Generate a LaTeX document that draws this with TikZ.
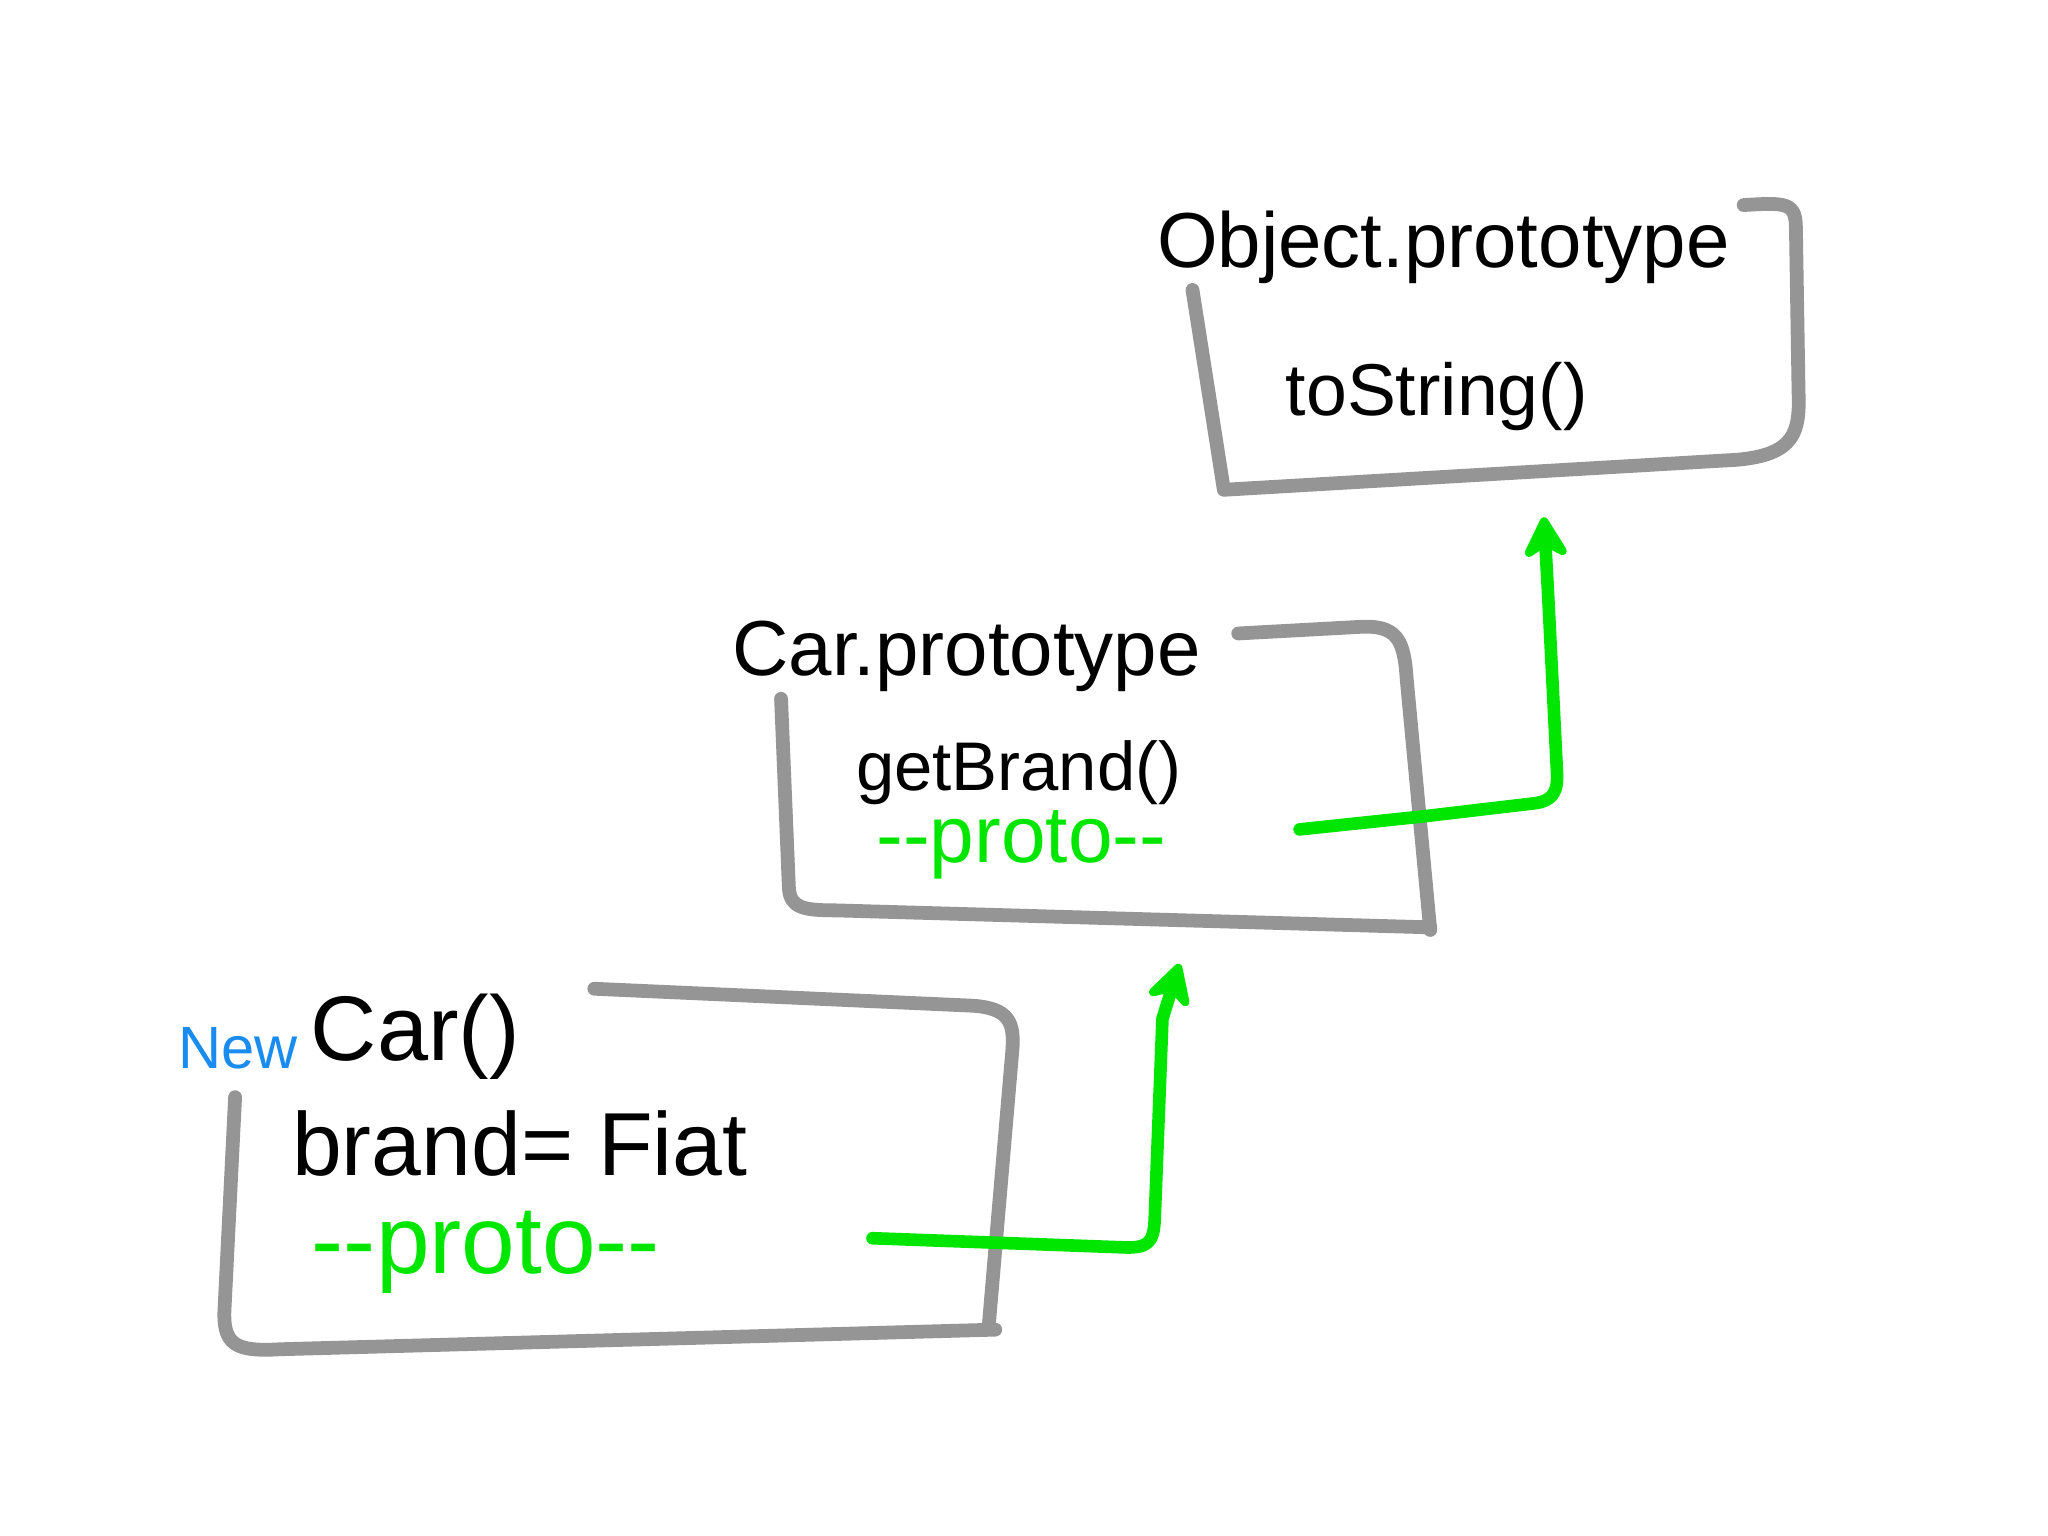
\documentclass[tikz,border=0pt]{standalone}
\usepackage{fontspec}
\setmainfont{Liberation Sans}
\usetikzlibrary{arrows.meta}
\definecolor{boxgray}{HTML}{959595}
\definecolor{protogreen}{HTML}{00E600}
\definecolor{newblue}{HTML}{1A8CF0}
\tikzset{
  boxline/.style={draw=boxgray, line width=6pt, line cap=round, line join=round},
  link/.style={draw=protogreen, line width=5.5pt, line cap=round, line join=round,
    -{Stealth[length=22pt,width=24pt,round]}},
  code/.style={inner sep=0pt, anchor=base, text=black},
  protolbl/.style={inner sep=0pt, anchor=base, text=protogreen},
}
\begin{document}
\begin{tikzpicture}[x=0.02cm, y=-0.02cm]
\useasboundingbox[fill=white] (0,0) rectangle (1568,1176);

% Box 3: Object.prototype
\draw[boxline] (913,222) -- (937,375) -- (1330,352)
  .. controls (1375,348) and (1378,330) .. (1377,300)
  -- (1375,175) .. controls (1375,155) and (1368,155) .. (1335,157);
\node[code, font=\fontsize{34}{40}\selectfont] (objproto) at (1105,205) {Object.prototype};
\node[code, font=\fontsize{32}{38}\selectfont] (tostring) at (1100,318) {toString()};

% Box 2: Car.prototype
\draw[boxline] (598,535) -- (604,680) .. controls (605,695) and (615,697) .. (640,697)
  -- (1095,710);
\draw[boxline] (948,485) -- (1040,480) .. controls (1070,478) and (1075,490) .. (1077,520)
  -- (1095,712);
\node[code, font=\fontsize{34}{40}\selectfont] (carproto) at (740,517) {Car.prototype};
\node[code, font=\fontsize{30}{36}\selectfont] (getbrand) at (780,605) {getBrand()};
\node[protolbl, font=\fontsize{35}{40}\selectfont] (proto2) at (782,660) {-{}-proto-{}-};

% Box 1: new Car()
\draw[boxline] (180,840) -- (172,1000) .. controls (170,1030) and (180,1035) .. (215,1033)
  -- (762,1018);
\draw[boxline] (455,757) -- (745,770) .. controls (772,772) and (777,782) .. (775,805)
  -- (757,1015);
\node[inner sep=0pt, anchor=base, text=newblue, font=\fontsize{26}{30}\selectfont] (newkw) at (182,818) {New};
\node[code, font=\fontsize{40}{46}\selectfont] (carnew) at (318,812) {Car()};
\node[code, font=\fontsize{39}{45}\selectfont] (brand) at (398,900) {brand= Fiat};
\node[protolbl, font=\fontsize{42}{46}\selectfont] (proto1) at (372,975) {-{}-proto-{}-};

% Links
\coordinate (l1start) at (668,948);
\coordinate (l1end) at (903,738);
\coordinate (l2start) at (995,635);
\coordinate (l2end) at (1182,396);
\draw[link] (l1start) -- (860,955) .. controls (880,956) and (883,950) .. (884,935)
  -- (890,780) -- (l1end);
\draw[link] (l2start) -- (1090,625) -- (1175,615) .. controls (1190,613) and (1193,605) .. (1192,590)
  -- (1185,450) -- (l2end);
\end{tikzpicture}
\end{document}
